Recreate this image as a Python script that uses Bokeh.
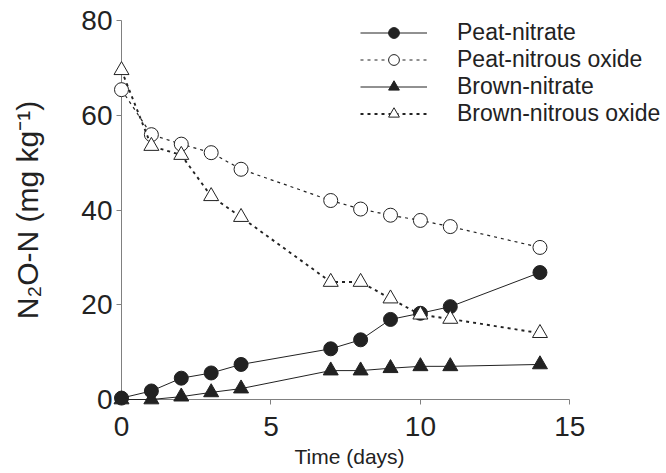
from bokeh.plotting import figure
from bokeh.models import Range1d, FixedTicker, Legend, LegendItem, Title
from bokeh.embed import file_html
from bokeh.resources import INLINE

days = [0, 1, 2, 3, 4, 7, 8, 9, 10, 11, 14]
peat_nitrate = [0.3, 1.8, 4.5, 5.6, 7.4, 10.7, 12.6, 16.9, 18.2, 19.6, 26.8]
peat_nitrous = [65.4, 55.9, 53.9, 52.1, 48.6, 42.0, 40.2, 38.9, 37.8, 36.5, 32.1]
brown_nitrate = [0.0, 0.0, 0.6, 1.5, 2.3, 6.1, 6.1, 6.6, 7.0, 7.0, 7.4]
brown_nitrous = [69.5, 53.5, 51.6, 42.9, 38.5, 24.8, 24.8, 21.3, 17.9, 17.0, 14.0]
x_ticks = [0, 5, 10, 15]
y_ticks = [0, 20, 40, 60, 80]
x_label = "Time (days)"
y_label = "N\u2082O-N (mg kg\u207b\u00b9)"
series_names = ["Peat-nitrate", "Peat-nitrous oxide", "Brown-nitrate", "Brown-nitrous oxide"]

FONT = "Liberation Sans"
INK = "#222222"
AX = "#808080"

p = figure(width=666, height=473, output_backend="svg", toolbar_location=None,
           x_range=Range1d(0, 18.2), y_range=Range1d(0, 80),
           min_border_left=121, min_border_right=1, min_border_top=20, min_border_bottom=74)
p.outline_line_color = None
p.grid.visible = False
p.background_fill_color = "white"

for ax in (p.xaxis[0], p.yaxis[0]):
    ax.axis_line_color = AX
    ax.major_tick_line_color = AX
    ax.minor_tick_line_color = None
    ax.major_tick_out = 5
    ax.major_tick_in = 0
    ax.major_label_text_font = FONT
    ax.major_label_text_font_size = "28px"
    ax.major_label_text_color = INK

p.xaxis[0].bounds = (0, 15)
p.xaxis[0].ticker = FixedTicker(ticks=x_ticks)
p.yaxis[0].ticker = FixedTicker(ticks=y_ticks)
p.xaxis[0].major_label_standoff = 12
p.yaxis[0].major_label_standoff = 4

p.yaxis[0].axis_label = y_label
p.yaxis[0].axis_label_standoff = 34
p.yaxis[0].axis_label_text_font = FONT
p.yaxis[0].axis_label_text_font_size = "30px"
p.yaxis[0].axis_label_text_font_style = "normal"
p.yaxis[0].axis_label_text_color = INK

xt = Title(text=x_label, align="left", offset=173, standoff=8,
           text_font=FONT, text_font_size="21px", text_font_style="normal", text_color=INK)
p.add_layout(xt, "below")

r1l = p.line(days, peat_nitrate, line_color=INK, line_width=1)
r1m = p.scatter(days, peat_nitrate, marker="circle", size=14, fill_color=INK, line_color=INK)
r2l = p.line(days, peat_nitrous, line_color=INK, line_width=1.2, line_dash="3 4")
r2m = p.scatter(days, peat_nitrous, marker="circle", size=14, fill_color="white", line_color=INK)
r3l = p.line(days, brown_nitrate, line_color=INK, line_width=1)
r3m = p.scatter(days, brown_nitrate, marker="triangle", size=15, fill_color=INK, line_color=INK)
r4l = p.line(days, brown_nitrous, line_color=INK, line_width=1.9, line_dash="3 4")
r4m = p.scatter(days, brown_nitrous, marker="triangle", size=15, fill_color="white", line_color=INK)

for r in (r1l, r1m, r2l, r2m, r3l, r3m, r4l, r4m):
    r.level = "overlay"

legend = Legend(items=[
    LegendItem(label=series_names[0], renderers=[r1l, r1m]),
    LegendItem(label=series_names[1], renderers=[r2l, r2m]),
    LegendItem(label=series_names[2], renderers=[r3l, r3m]),
    LegendItem(label=series_names[3], renderers=[r4l, r4m]),
], location=(239, 272))
legend.border_line_color = None
legend.background_fill_alpha = 0
legend.padding = 0
legend.margin = 0
legend.spacing = 0
legend.glyph_width = 67
legend.glyph_height = 27
legend.label_height = 27
legend.label_standoff = 30
legend.label_text_font = FONT
legend.label_text_font_size = "23px"
legend.label_text_color = INK
legend.level = "overlay"
p.add_layout(legend)

open("out.html", "w").write(file_html(p, INLINE))
